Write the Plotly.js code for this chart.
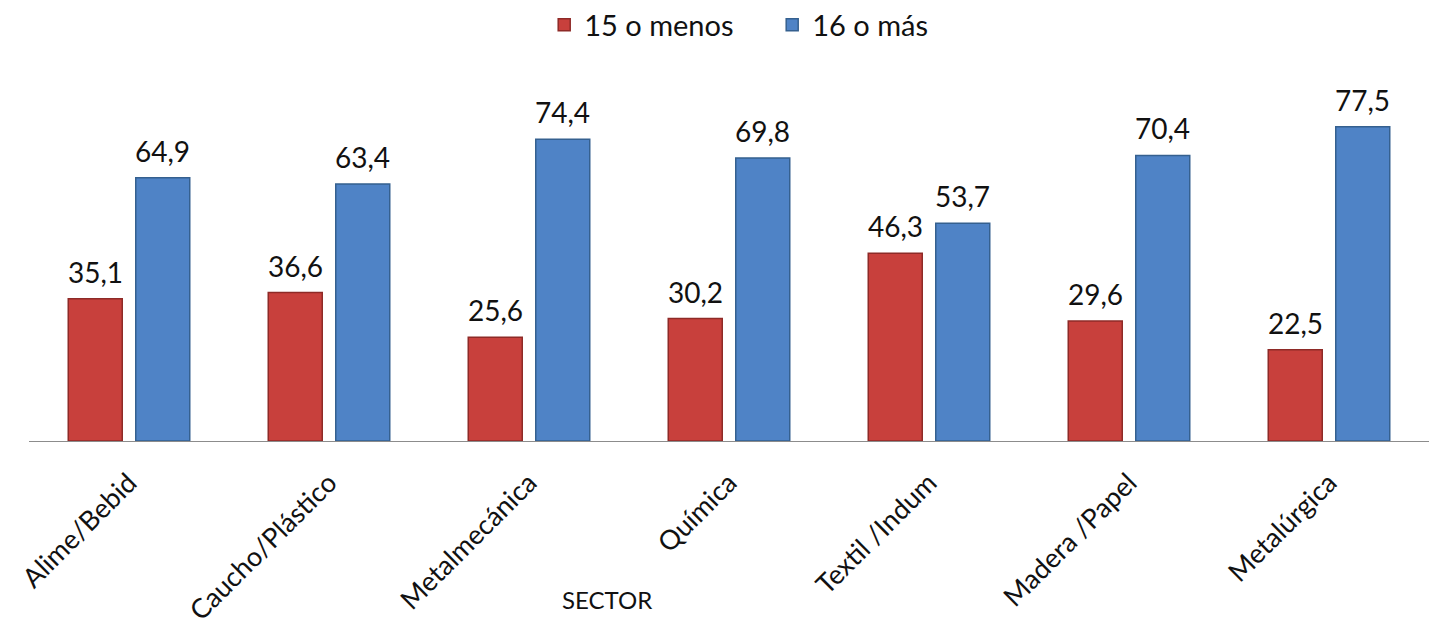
<!DOCTYPE html>
<html><head><meta charset="utf-8">
<script src="https://cdn.plot.ly/plotly-3.0.1.min.js"></script>
<style>html,body{margin:0;padding:0;background:#fff}#c{width:1430px;height:627px}</style>
</head><body><div id="c"></div>
<script>
const categories = ["Alime/Bebid","Caucho/Plástico","Metalmecánica","Química","Textil /Indum","Madera /Papel","Metalúrgica"];
const seriesNames = ["15 o menos","16 o más"];
const valuesLow = [35.1,36.6,25.6,30.2,46.3,29.6,22.5];
const valuesHigh = [64.9,63.4,74.4,69.8,53.7,70.4,77.5];
const axisTitle = "SECTOR";

const FONT = "Lato, 'Open Sans', sans-serif";
const fmt = v => v.toFixed(1).replace('.', ',');

const traces = [
  {type:'bar', name:seriesNames[0], x:categories, y:valuesLow,
   marker:{color:'#C8403C', line:{color:'#8E2A27', width:1.5}}, hoverinfo:'skip'},
  {type:'bar', name:seriesNames[1], x:categories, y:valuesHigh,
   marker:{color:'#4F83C6', line:{color:'#35608F', width:1.5}}, hoverinfo:'skip'}
];

const slot = 0.3375; // half of group width in category units
const annotations = [];
categories.forEach((c,i)=>{
  annotations.push({x:i - slot/2, y:valuesLow[i], xref:'x', yref:'y', text:fmt(valuesLow[i]),
    showarrow:false, yanchor:'bottom', yshift:8, font:{family:FONT,size:28,color:'#111'}});
  annotations.push({x:i + slot/2, y:valuesHigh[i], xref:'x', yref:'y', text:fmt(valuesHigh[i]),
    showarrow:false, yanchor:'bottom', yshift:8, font:{family:FONT,size:28,color:'#111'}});
});
annotations.push({x:0.413, y:-0.434, xref:'paper', yref:'paper', text:axisTitle, showarrow:false,
  xanchor:'center', yanchor:'middle', font:{family:FONT,size:24,color:'#111'}});

const layout = {
  width:1430, height:627,
  margin:{l:29, r:1, t:76, b:186, autoexpand:false},
  paper_bgcolor:'#fff', plot_bgcolor:'#fff',
  barmode:'group', bargap:0.325, bargroupgap:0.2,
  showlegend:true,
  legend:{orientation:'h', x:0.368, xanchor:'left', y:1.14, yanchor:'middle',
    entrywidth:183, entrywidthmode:'pixels',
    font:{family:FONT,size:29,color:'#111'}, itemwidth:30, tracegroupgap:0},
  xaxis:{type:'category', showline:true, linecolor:'#8C8C8C', linewidth:1.3, automargin:false,
    ticks:'', tickangle:-45, ticklabelstandoff:14, tickfont:{family:FONT,size:27,color:'#111'}, showgrid:false, zeroline:false},
  yaxis:{range:[0,90], visible:false, showgrid:false, zeroline:false, automargin:false},
  annotations:annotations,
  font:{family:FONT}
};
Plotly.newPlot('c', traces, layout, {displayModeBar:false, staticPlot:true});
</script></body></html>
